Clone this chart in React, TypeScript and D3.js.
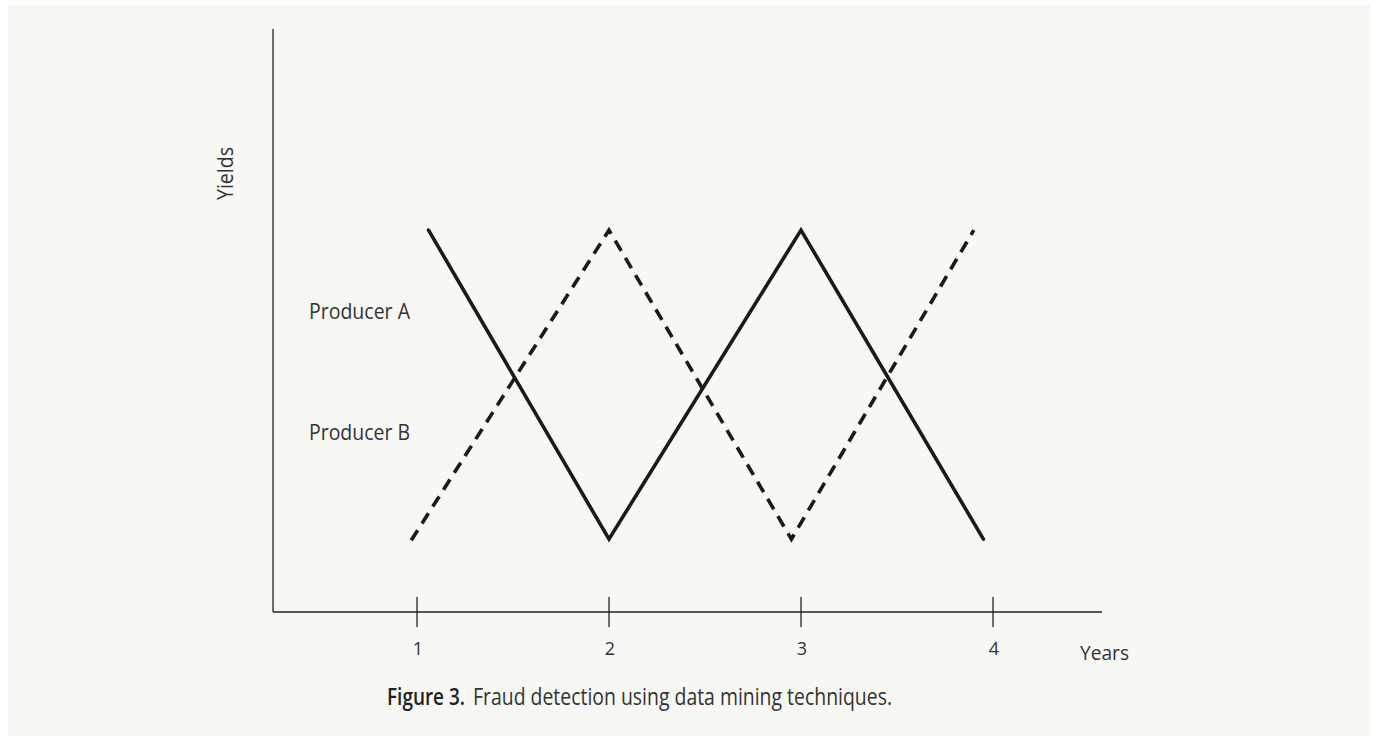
import React from "react";
import * as d3 from "d3";

const years = [1, 2, 3, 4];
const tickLabels = ["1", "2", "3", "4"];
// Producer A (solid)
const producerAX = [1.06, 2.0, 3.0, 3.95];
const producerAY = [65.5, 12.5, 65.5, 12.5];
// Producer B (dashed)
const producerBX = [0.97, 2.0, 2.95, 3.9];
const producerBY = [12.3, 65.5, 12.5, 65.5];
const seriesLabels = ["Producer A", "Producer B"];
const seriesLabelY = [50.2, 29.5];
const captionLead = "Figure 3.";
const captionText = "Fraud detection using data mining techniques.";

const W = 1375;
const H = 736;
const FONT = "'Open Sans', 'Noto Sans', sans-serif";

export default function App() {
  const x = d3.scaleLinear().domain([1, 4]).range([417, 993]);
  const y = d3.scaleLinear().domain([0, 100]).range([612, 29]);
  const line = d3
    .line<[number, number]>()
    .x((d) => x(d[0]))
    .y((d) => y(d[1]));
  const a: [number, number][] = producerAX.map((v, i) => [v, producerAY[i]]);
  const b: [number, number][] = producerBX.map((v, i) => [v, producerBY[i]]);
  const xMin = x.invert(273);
  const xMax = x.invert(1102);

  return (
    <svg
      width={W}
      height={H}
      style={{ position: "absolute", left: 0, top: 0 }}
      fontFamily={FONT}
    >
      <rect x={0} y={0} width={W} height={H} fill="#ffffff" />
      <rect x={8} y={5} width={1362} height={H - 5} fill="#f7f8f4" />
      {/* axes */}
      <line x1={x(xMin)} x2={x(xMin)} y1={y(100)} y2={y(0)} stroke="#222" strokeWidth={1.3} />
      <line x1={x(xMin)} x2={x(xMax)} y1={y(0)} y2={y(0)} stroke="#222" strokeWidth={1.3} />
      {years.map((t, i) => (
        <g key={t}>
          <line x1={x(t)} x2={x(t)} y1={y(0) - 15} y2={y(0) + 15} stroke="#222" strokeWidth={1.3} />
          <text x={x(t) + 1} y={655} fontSize={18} fill="#333" textAnchor="middle">
            {tickLabels[i]}
          </text>
        </g>
      ))}
      <text x={1080} y={660} fontSize={20} fill="#333" textLength={49} lengthAdjust="spacingAndGlyphs">
        Years
      </text>
      <text
        transform={`translate(233,173.5) rotate(-90)`}
        fontSize={21}
        fill="#333"
        textAnchor="middle"
        textLength={53}
        lengthAdjust="spacingAndGlyphs"
      >
        Yields
      </text>
      {seriesLabels.map((s, i) => (
        <text
          key={s}
          x={309}
          y={y(seriesLabelY[i])}
          fontSize={21}
          fill="#333"
          textLength={101}
          lengthAdjust="spacingAndGlyphs"
        >
          {s}
        </text>
      ))}
      <path d={line(a) || ""} fill="none" stroke="#1a1a1a" strokeWidth={3.6} strokeLinecap="round" strokeLinejoin="miter" />
      <path d={line(b) || ""} fill="none" stroke="#1a1a1a" strokeWidth={3.6} strokeDasharray="12 8" strokeLinejoin="miter" />
      <text x={387} y={705} fontSize={23} fontWeight={600} fill="#222" textLength={78} lengthAdjust="spacingAndGlyphs">
        {captionLead}
      </text>
      <text x={473} y={705} fontSize={23} fill="#333" textLength={419} lengthAdjust="spacingAndGlyphs">
        {captionText}
      </text>
    </svg>
  );
}
